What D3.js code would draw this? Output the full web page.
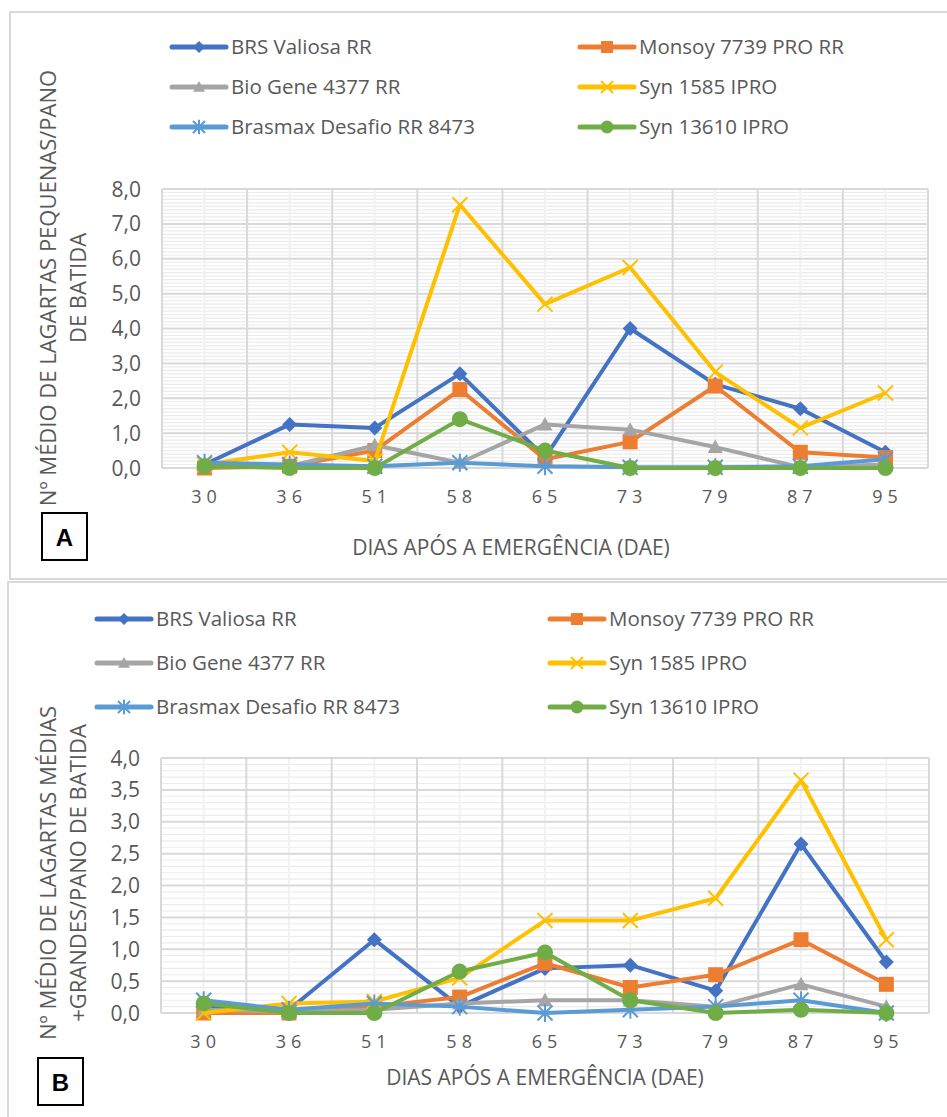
<!DOCTYPE html>
<meta charset="utf-8">
<style>
body { margin: 0; background: #fff; }
svg text { font-family: "Open Sans", "Noto Sans", sans-serif; fill: #595959; }
.grid-major line { stroke: #d9d9d9; stroke-width: 2; }
.grid-minor line { stroke: #ececec; stroke-width: 1.2; }
.grid-vminor line { stroke: #f2f2f2; stroke-width: 2; }
.series path.line { fill: none; stroke-width: 4; stroke-linejoin: round; }
.frame { fill: none; stroke: #d9d9d9; stroke-width: 2; }
.tag rect { fill: #fff; stroke: #000; stroke-width: 2; }
.tag text { fill: #000; font-family: "Liberation Sans", Arial, sans-serif; font-weight: bold; font-size: 24px; }
</style>
<body>
<script src="https://cdn.jsdelivr.net/npm/d3@7"></script>
<script>

// days after emergence (x categories)
var days = ['30', '36', '51', '58', '65', '73', '79', '87', '95']

var cultivars = ['BRS Valiosa RR', 'Monsoy 7739 PRO RR', 'Bio Gene 4377 RR',
                 'Syn 1585 IPRO', 'Brasmax Desafio RR 8473', 'Syn 13610 IPRO']

// A - small caterpillars per beat cloth
var pequenasValiosa  = [0.1, 1.25, 1.15, 2.7, 0.3, 4.0, 2.4, 1.7, 0.45]
var pequenasMonsoy   = [0, 0.05, 0.5, 2.25, 0.25, 0.75, 2.35, 0.45, 0.3]
var pequenasBioGene  = [0.05, 0.05, 0.65, 0.15, 1.25, 1.1, 0.6, 0.02, 0.1]
var pequenasSyn1585  = [0.1, 0.45, 0.2, 7.55, 4.7, 5.75, 2.75, 1.15, 2.15]
var pequenasBrasmax  = [0.15, 0.1, 0.05, 0.15, 0.05, 0.02, 0.02, 0.05, 0.25]
var pequenasSyn13610 = [0.05, 0, 0, 1.4, 0.5, 0, 0, 0, 0]

// B - medium + large caterpillars per beat cloth
var grandesValiosa  = [0.1, 0.05, 1.15, 0.1, 0.7, 0.75, 0.35, 2.65, 0.8]
var grandesMonsoy   = [0, 0, 0.1, 0.25, 0.78, 0.4, 0.6, 1.15, 0.45]
var grandesBioGene  = [0.05, 0.02, 0.05, 0.15, 0.2, 0.2, 0.1, 0.45, 0.1]
var grandesSyn1585  = [0, 0.15, 0.18, 0.55, 1.45, 1.45, 1.8, 3.65, 1.15]
var grandesBrasmax  = [0.2, 0.05, 0.15, 0.1, 0, 0.05, 0.1, 0.2, 0]
var grandesSyn13610 = [0.15, 0, 0, 0.65, 0.95, 0.2, 0, 0.05, 0]

var ticksA = [0, 1, 2, 3, 4, 5, 6, 7, 8]
var ticksB = [0, 0.5, 1, 1.5, 2, 2.5, 3, 3.5, 4]

var colors = ['#4472c4', '#ed7d31', '#a5a5a5', '#ffc000', '#5b9bd5', '#70ad47']
var markers = ['diamond', 'square', 'triangle', 'x', 'star', 'circle']

var width = 947
var height = 1117

var svg = d3.select('body').append('svg')
    .attr('width', width)
    .attr('height', height)

function drawMarker(g, type, color, s) {
    if (type === 'diamond') {
        g.append('path').attr('d', 'M0,' + (-s) + 'L' + s + ',0L0,' + s + 'L' + (-s) + ',0Z')
            .attr('fill', color)
    } else if (type === 'square') {
        g.append('rect').attr('x', -s).attr('y', -s).attr('width', 2 * s).attr('height', 2 * s)
            .attr('fill', color)
    } else if (type === 'triangle') {
        g.append('path').attr('d', 'M0,' + (-s) + 'L' + s + ',' + (s * 0.8) + 'L' + (-s) + ',' + (s * 0.8) + 'Z')
            .attr('fill', color)
    } else if (type === 'x') {
        g.append('path').attr('d', 'M' + (-s) + ',' + (-s) + 'L' + s + ',' + s + 'M' + (-s) + ',' + s + 'L' + s + ',' + (-s))
            .attr('stroke', color).attr('stroke-width', 2).attr('fill', 'none')
    } else if (type === 'star') {
        g.append('path').attr('d', 'M' + (-s) + ',' + (-s) + 'L' + s + ',' + s + 'M' + (-s) + ',' + s + 'L' + s + ',' + (-s) +
            'M0,' + (-s * 1.2) + 'L0,' + (s * 1.2))
            .attr('stroke', color).attr('stroke-width', 2).attr('fill', 'none')
    } else {
        g.append('circle').attr('r', s + 0.5).attr('fill', color)
    }
}

function drawPanel(p) {
    var x = d3.scaleBand().domain(days).range([p.left, p.right])
    var y = d3.scaleLinear().domain([0, p.ticks[p.ticks.length - 1]]).range([p.bottom, p.top])

    // panel frame
    svg.append('rect').attr('class', 'frame')
        .attr('x', p.frame[0]).attr('y', p.frame[1])
        .attr('width', p.frame[2]).attr('height', p.frame[3])

    // minor gridlines
    var minor = d3.range(0, y.domain()[1] + 1e-9, p.minorStep)
    svg.append('g').attr('class', 'grid-minor')
        .selectAll('line').data(minor).enter().append('line')
        .attr('x1', p.left).attr('x2', p.right)
        .attr('y1', function (d) { return y(d) }).attr('y2', function (d) { return y(d) })

    svg.append('g').attr('class', 'grid-vminor')
        .selectAll('line').data(days).enter().append('line')
        .attr('x1', function (d) { return x(d) + x.bandwidth() / 2 })
        .attr('x2', function (d) { return x(d) + x.bandwidth() / 2 })
        .attr('y1', p.top).attr('y2', p.bottom)

    // major gridlines
    var major = svg.append('g').attr('class', 'grid-major')
    major.selectAll('line.h').data(p.ticks).enter().append('line')
        .attr('x1', p.left).attr('x2', p.right)
        .attr('y1', function (d) { return y(d) }).attr('y2', function (d) { return y(d) })
    major.selectAll('line.v').data(days.concat(['end'])).enter().append('line')
        .attr('x1', function (d) { return d === 'end' ? p.right : x(d) })
        .attr('x2', function (d) { return d === 'end' ? p.right : x(d) })
        .attr('y1', p.top).attr('y2', p.bottom)

    // y tick labels
    svg.append('g').selectAll('text').data(p.ticks).enter().append('text')
        .attr('x', p.left - 21)
        .attr('y', function (d) { return y(d) })
        .attr('dy', '0.36em')
        .attr('text-anchor', 'end')
        .style('font-size', '21px')
        .text(function (d) { return d3.format('.1f')(d).replace('.', ',') })

    // x tick labels
    svg.append('g').selectAll('text').data(days).enter().append('text')
        .attr('x', function (d) { return x(d) + x.bandwidth() / 2 + 2 })
        .attr('y', p.bottom + 29)
        .attr('dy', '0.36em')
        .attr('text-anchor', 'middle')
        .style('font-size', '18px')
        .style('letter-spacing', '5px')
        .text(function (d) { return d })

    // series
    var line = d3.line()
        .x(function (d, i) { return x(days[i]) + x.bandwidth() / 2 })
        .y(function (d) { return y(d) })

    p.series.forEach(function (values, k) {
        var g = svg.append('g').attr('class', 'series')
        g.append('path').attr('class', 'line')
            .attr('d', line(values))
            .attr('stroke', colors[k])
        values.forEach(function (v, i) {
            var m = g.append('g')
                .attr('transform', 'translate(' + (x(days[i]) + x.bandwidth() / 2) + ',' + y(v) + ')')
            drawMarker(m, markers[k], colors[k], 7.5)
        })
    })

    // legend
    var leg = svg.append('g')
    cultivars.forEach(function (name, k) {
        var col = k % 2
        var row = Math.floor(k / 2)
        var lx = p.legendX[col]
        var ly = p.legendY[row]
        var item = leg.append('g').attr('transform', 'translate(' + lx + ',' + ly + ')')
        item.append('line').attr('x1', 0).attr('x2', 54)
            .attr('stroke', colors[k]).attr('stroke-width', 5).attr('stroke-linecap', 'round')
        var m = item.append('g').attr('transform', 'translate(27,0)')
        drawMarker(m, markers[k], colors[k], 6)
        item.append('text').attr('x', 59).attr('dy', '0.35em')
            .style('font-size', '20.5px')
            .text(name)
    })

    // axis titles
    var yt = svg.append('text')
        .attr('transform', 'translate(' + p.yTitleX + ',' + p.yTitleY + ') rotate(-90)')
        .attr('text-anchor', 'middle')
        .style('font-size', '22px')
    p.yTitle.forEach(function (t, i) {
        yt.append('tspan').attr('x', 0).attr('y', i * 30).text(t)
    })

    svg.append('text')
        .attr('x', p.xTitleX).attr('y', p.xTitleY)
        .attr('dy', '0.35em')
        .attr('text-anchor', 'middle')
        .style('font-size', '21px')
        .text('DIAS APÓS A EMERGÊNCIA (DAE)')

    var tag = svg.append('g').attr('class', 'tag')
    tag.append('rect').attr('x', p.tag[0]).attr('y', p.tag[1]).attr('width', 45).attr('height', 47)
    tag.append('text').attr('x', p.tag[0] + 22.5).attr('y', p.tag[1] + 24)
        .attr('dy', '0.36em').attr('text-anchor', 'middle')
        .text(p.letter)
}

drawPanel({
    left: 162, right: 928, top: 189, bottom: 468,
    ticks: ticksA, minorStep: 0.1,
    series: [pequenasValiosa, pequenasMonsoy, pequenasBioGene, pequenasSyn1585, pequenasBrasmax, pequenasSyn13610],
    frame: [10, 12, 960, 567],
    legendX: [172, 580], legendY: [47, 87, 127],
    yTitle: ['Nº MÉDIO DE LAGARTAS PEQUENAS/PANO', 'DE BATIDA'],
    yTitleX: 56, yTitleY: 288,
    xTitleX: 511, xTitleY: 548,
    tag: [42, 513], letter: 'A'
})

drawPanel({
    left: 161, right: 929, top: 758, bottom: 1013,
    ticks: ticksB, minorStep: 0.1,
    series: [grandesValiosa, grandesMonsoy, grandesBioGene, grandesSyn1585, grandesBrasmax, grandesSyn13610],
    frame: [8, 582, 960, 560],
    legendX: [97, 550], legendY: [619, 663, 707],
    yTitle: ['Nº MÉDIO DE LAGARTAS MÉDIAS', '+GRANDES/PANO DE BATIDA'],
    yTitleX: 56, yTitleY: 873,
    xTitleX: 545, xTitleY: 1078,
    tag: [38, 1058], letter: 'B'
})

</script>
</body>
